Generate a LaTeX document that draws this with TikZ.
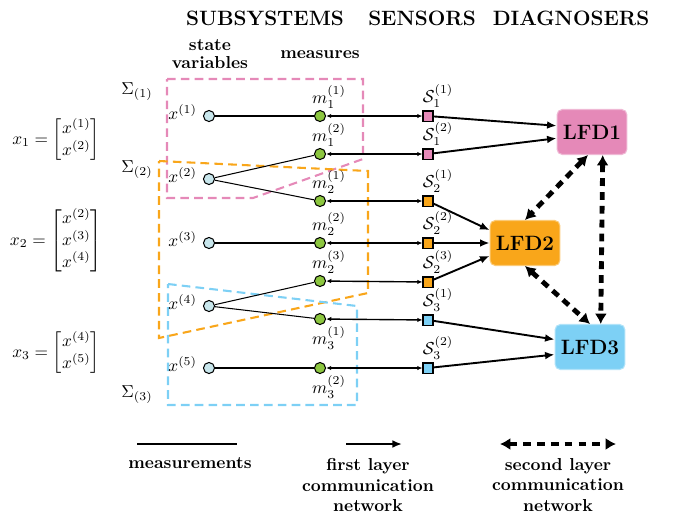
\documentclass[tikz,border=0pt]{standalone}
\usepackage{amsmath}
\usetikzlibrary{arrows.meta}

\definecolor{rosa}{RGB}{229,137,184}
\definecolor{naranja}{RGB}{249,166,26}
\definecolor{celeste}{RGB}{125,208,245}
\definecolor{estado}{RGB}{200,230,236}
\definecolor{verde}{RGB}{140,198,63}

\tikzstyle{varestado}= [circle,draw,black,line width=0.6pt,fill=estado,inner sep=0pt,minimum size=6.4pt]
\tikzstyle{medida}= [circle,draw,black,line width=0.6pt,fill=verde,inner sep=0pt,minimum size=6.4pt]
\tikzstyle{sensor}= [rectangle,draw,black,line width=0.6pt,inner sep=0pt,minimum size=5.8pt]
\tikzstyle{lfd}= [rectangle,rounded corners=3pt,line width=0.6pt,minimum width=39pt,minimum height=26pt,font=\large\bfseries]
\tikzstyle{titulo}= [font=\large\bfseries]
\tikzstyle{texto}= [font=\bfseries,align=center]
\tikzstyle{zona}= [line width=1.2pt,dash pattern=on 5pt off 3pt]
\tikzstyle{medicion}= [black,line width=1.1pt]
\tikzstyle{enlace}= [black,line width=0.8pt,{Latex[length=3pt,width=2.6pt]}-{Latex[length=3pt,width=2.6pt]}]
\tikzstyle{primera}= [black,line width=1.1pt,-{Latex[length=5.5pt,width=4.5pt]}]
\tikzstyle{segunda}= [black,line width=2.8pt,dash pattern=on 4.5pt off 3.5pt,{Latex[length=6pt,width=7pt]}-{Latex[length=6pt,width=7pt]}]

\begin{document}
\begin{tikzpicture}[x=0.578pt,y=-0.578pt]
		\useasboundingbox (0,0) rectangle (682,516);

		\node (tsub) at (265,18) [titulo] {SUBSYSTEMS};
		\node (tsen) at (422,18) [titulo] {SENSORS};
		\node (tdiag) at (571,18) [titulo] {DIAGNOSERS};
		\node (tvar) at (210,54) [texto] {state\\[-2pt]variables};
		\node (tmed) at (320,55) [texto] {measures};

		\draw[zona,rosa] (167,79) -- (363,79) -- (363,159) -- (253,198) -- (167,198) -- cycle;
		\draw[zona,naranja] (159,161) -- (368,171) -- (368,293) -- (159,338) -- cycle;
		\draw[zona,celeste] (168,284) -- (357,306) -- (357,405) -- (168,405) -- cycle;

		\node (sig1) at (137,92) {$\Sigma_{(1)}$};
		\node (sig2) at (137,170) {$\Sigma_{(2)}$};
		\node (sig3) at (137,395) {$\Sigma_{(3)}$};

		\node (ec1) at (56,140) {$x_1=\begin{bmatrix}x^{(1)}\\x^{(2)}\end{bmatrix}$};
		\node (ec2) at (56,241) {$x_2=\begin{bmatrix}x^{(2)}\\x^{(3)}\\x^{(4)}\end{bmatrix}$};
		\node (ec3) at (56,353) {$x_3=\begin{bmatrix}x^{(4)}\\x^{(5)}\end{bmatrix}$};

		\node (x1) at (209,116) [varestado] {};
		\node (lx1) at (203,112) [anchor=east] {$x^{(1)}$};
		\node (x2) at (209,179) [varestado] {};
		\node (lx2) at (203,175) [anchor=east] {$x^{(2)}$};
		\node (x3) at (209,243) [varestado] {};
		\node (lx3) at (203,239) [anchor=east] {$x^{(3)}$};
		\node (x4) at (209,306) [varestado] {};
		\node (lx4) at (203,302) [anchor=east] {$x^{(4)}$};
		\node (x5) at (209,368) [varestado] {};
		\node (lx5) at (203,364) [anchor=east] {$x^{(5)}$};

		\node (m11) at (320,116) [medida] {};
		\node (lm11) at (329,97) {$m_1^{(1)}$};
		\node (m12) at (320,154) [medida] {};
		\node (lm12) at (329,135) {$m_1^{(2)}$};
		\node (m21) at (320,201) [medida] {};
		\node (lm21) at (329,182) {$m_2^{(1)}$};
		\node (m22) at (320,243) [medida] {};
		\node (lm22) at (329,224) {$m_2^{(2)}$};
		\node (m23) at (320,281) [medida] {};
		\node (lm23) at (329,262) {$m_2^{(3)}$};
		\node (m31) at (320,319) [medida] {};
		\node (lm31) at (329,338) {$m_3^{(1)}$};
		\node (m32) at (320,368) [medida] {};
		\node (lm32) at (329,387) {$m_3^{(2)}$};

		\node (s11) at (428,116) [sensor,fill=rosa] {};
		\node (ls11) at (438,96) {$\mathcal{S}_1^{(1)}$};
		\node (s12) at (428,154) [sensor,fill=rosa] {};
		\node (ls12) at (438,134) {$\mathcal{S}_1^{(2)}$};
		\node (s21) at (428,201) [sensor,fill=naranja] {};
		\node (ls21) at (438,181) {$\mathcal{S}_2^{(1)}$};
		\node (s22) at (428,243) [sensor,fill=naranja] {};
		\node (ls22) at (438,223) {$\mathcal{S}_2^{(2)}$};
		\node (s23) at (428,282) [sensor,fill=naranja] {};
		\node (ls23) at (438,262) {$\mathcal{S}_2^{(3)}$};
		\node (s31) at (428,320) [sensor,fill=celeste] {};
		\node (ls31) at (438,300) {$\mathcal{S}_3^{(1)}$};
		\node (s32) at (428,368) [sensor,fill=celeste] {};
		\node (ls32) at (438,348) {$\mathcal{S}_3^{(2)}$};

		\node (lfd1) at (592,132) [lfd,fill=rosa,draw=rosa!60!white] {LFD1};
		\node (lfd2) at (525,243) [lfd,fill=naranja,draw=naranja!60!white] {LFD2};
		\node (lfd3) at (590,347) [lfd,fill=celeste,draw=celeste!60!white] {LFD3};

		\path[medicion] (x1) edge (m11);
		\path[black,semithick] (x2) edge (m12);
		\path[black,semithick] (x2) edge (m21);
		\path[medicion] (x3) edge (m22);
		\path[black,semithick] (x4) edge (m23);
		\path[black,semithick] (x4) edge (m31);
		\path[medicion] (x5) edge (m32);

		\path[enlace] (m11) edge (s11);
		\path[enlace] (m12) edge (s12);
		\path[enlace] (m21) edge (s21);
		\path[enlace] (m22) edge (s22);
		\path[enlace] (m23) edge (s23);
		\path[enlace] (m31) edge (s31);
		\path[enlace] (m32) edge (s32);

		\path[primera] (s11) edge (lfd1.170);
		\path[primera] (s12) edge (lfd1.190);
		\path[primera] (s21) edge (lfd2.160);
		\path[primera] (s22) edge (lfd2.west);
		\path[primera] (s23) edge (lfd2.200);
		\path[primera] (s31) edge (lfd3.168);
		\path[primera] (s32) edge (lfd3.192);

		\path[segunda] (lfd1.-100) edge (lfd2.north);
		\path[segunda] (lfd1.-65) edge (lfd3.65);
		\path[segunda] (lfd2.south) edge (lfd3.north);

		\coordinate (lm1) at (137,444);
		\coordinate (lm2) at (237,444);
		\coordinate (lp1) at (346,444);
		\coordinate (lp2) at (402,444);
		\coordinate (ls1) at (500,444);
		\coordinate (ls2) at (616,444);
		\path[medicion] (lm1) edge (lm2);
		\path[primera] (lp1) edge (lp2);
		\path[segunda] (ls1) edge (ls2);

		\node (tmedc) at (190,463) [texto] {measurements};
		\node (tpri) at (368,485) [texto] {first layer\\communication\\network};
		\node (tseg) at (558,485) [texto] {second layer\\communication\\network};

		\end{tikzpicture}
\end{document}
